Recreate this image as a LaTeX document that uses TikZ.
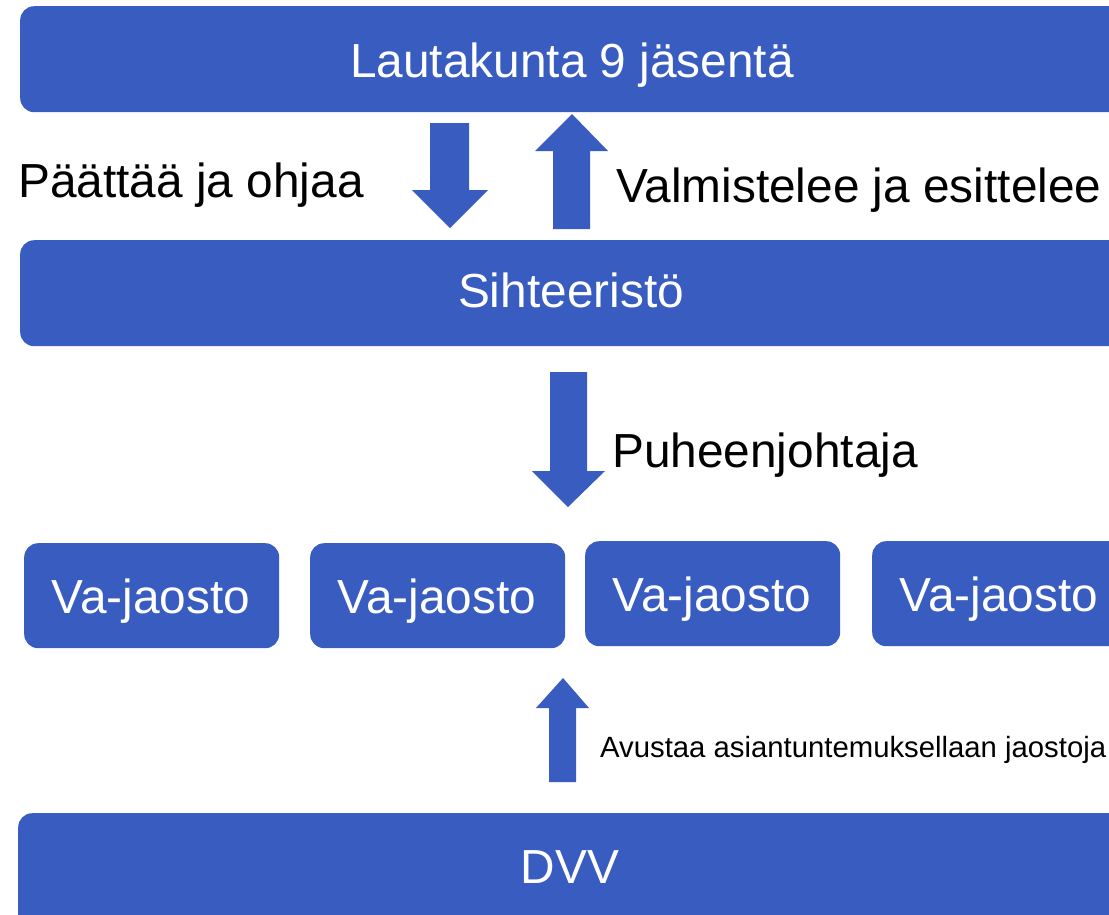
\documentclass[tikz,border=0pt]{standalone}
\usepackage{fontspec}
\setmainfont{Liberation Sans}
\definecolor{boxblue}{RGB}{56,92,191}
\begin{document}
\begin{tikzpicture}[x=1pt,y=-1pt,
  box/.style={rectangle, rounded corners=14pt, fill=boxblue, draw=none, inner sep=0pt, anchor=north west},
  wtext/.style={text=white, inner sep=0pt, anchor=base, font=\fontsize{47.8}{56}\selectfont},
  btext/.style={text=black, inner sep=0pt, anchor=base west, font=\fontsize{47.8}{56}\selectfont},
  stext/.style={text=black, inner sep=0pt, anchor=base west, font=\fontsize{29.3}{35}\selectfont},
  blockarrow/.style={fill=boxblue, draw=none}]
\useasboundingbox (0,0) rectangle (1109,914);
\clip (0,0) rectangle (1109,914);
% bars
\node[box, minimum width=1140pt, minimum height=106pt] (lauta) at (20,6) {};
\node[box, minimum width=1140pt, minimum height=106pt] (siht) at (20,240) {};
\node[box, minimum width=1140pt, minimum height=140pt] (dvv) at (18,813) {};
% section boxes
\node[box, minimum width=255pt, minimum height=105pt] (va1) at (24,543) {};
\node[box, minimum width=255pt, minimum height=105pt] (va2) at (310,543) {};
\node[box, minimum width=255pt, minimum height=105pt] (va3) at (585,541) {};
\node[box, minimum width=255pt, minimum height=105pt] (va4) at (872,541) {};
% texts in boxes
\node[wtext] (tl) at (572,77) {Lautakunta 9 jäsentä};
\node[wtext] (ts) at (571,307) {Sihteeristö};
\node[wtext] (td) at (570,883) {DVV};
\node[wtext] (tv1) at (151,613) {Va-jaosto};
\node[wtext] (tv2) at (437,613) {Va-jaosto};
\node[wtext] (tv3) at (712,611) {Va-jaosto};
\node[wtext] (tv4) at (999,611) {Va-jaosto};
% labels
\node[btext] (lp) at (18,197) {Päättää ja ohjaa};
\node[btext] (lv) at (616,202) {Valmistelee ja esittelee};
\node[btext] (lh) at (612,467) {Puheenjohtaja};
\node[stext] (la) at (600,757) {Avustaa asiantuntemuksellaan jaostoja};
% block arrows
\fill[blockarrow] (430,123) -- (469,123) -- (469,190) -- (488,190) -- (450,228) -- (412,190) -- (430,190) -- cycle;
\fill[blockarrow] (553,229) -- (590,229) -- (590,151) -- (608,151) -- (572,114) -- (535,151) -- (553,151) -- cycle;
\fill[blockarrow] (550,372) -- (587,372) -- (587,471) -- (605,471) -- (568,507) -- (532,471) -- (550,471) -- cycle;
\fill[blockarrow] (549,782) -- (576,782) -- (576,708) -- (589,708) -- (563,678) -- (536,708) -- (549,708) -- cycle;
\end{tikzpicture}
\end{document}
